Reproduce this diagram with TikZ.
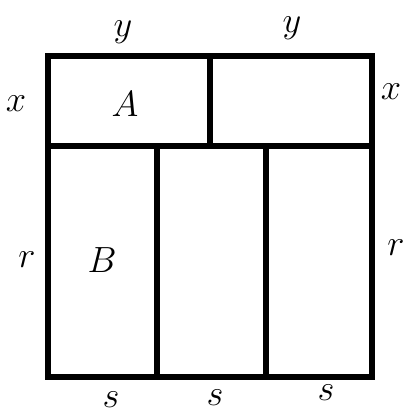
\documentclass[tikz,border=0pt]{standalone}
\begin{document}
\begin{tikzpicture}[
    x=0.02cm, y=-0.02cm,
    wall/.style={line width=3.4pt, line cap=rect, line join=miter},
    lbl/.style={font=\fontsize{20}{24}\selectfont, inner sep=0pt}
]
  \useasboundingbox (0,0) rectangle (404,414);

  % Esquinas del cuadrado
  \coordinate (tl) at (48,56);
  \coordinate (tr) at (372,56);
  \coordinate (bl) at (48,377);
  \coordinate (br) at (372,377);

  % Puntos de las divisiones
  \coordinate (ml) at (48,146);
  \coordinate (mr) at (372,146);
  \coordinate (tm) at (210,56);
  \coordinate (mm) at (210,146);
  \coordinate (m1) at (157,146);
  \coordinate (m2) at (266,146);
  \coordinate (b1) at (157,377);
  \coordinate (b2) at (266,377);

  % Contorno y divisiones
  \draw[wall] (tl) rectangle (br);
  \draw[wall] (ml) -- (mr);
  \draw[wall] (tm) -- (mm);
  \draw[wall] (m1) -- (b1);
  \draw[wall] (m2) -- (b2);

  % Regiones
  \node[lbl] (regA) at (125,104) {$A$};
  \node[lbl] (regB) at (102,260) {$B$};

  % Medidas
  \node[lbl] (y1) at (123,32) {$y$};
  \node[lbl] (y2) at (292,28) {$y$};
  \node[lbl] (x1) at (16,104) {$x$};
  \node[lbl] (x2) at (391,92) {$x$};
  \node[lbl] (r1) at (27,260) {$r$};
  \node[lbl] (r2) at (396,248) {$r$};
  \node[lbl] (s1) at (111,400) {$s$};
  \node[lbl] (s2) at (215,398) {$s$};
  \node[lbl] (s3) at (326,393) {$s$};

\end{tikzpicture}
\end{document}
